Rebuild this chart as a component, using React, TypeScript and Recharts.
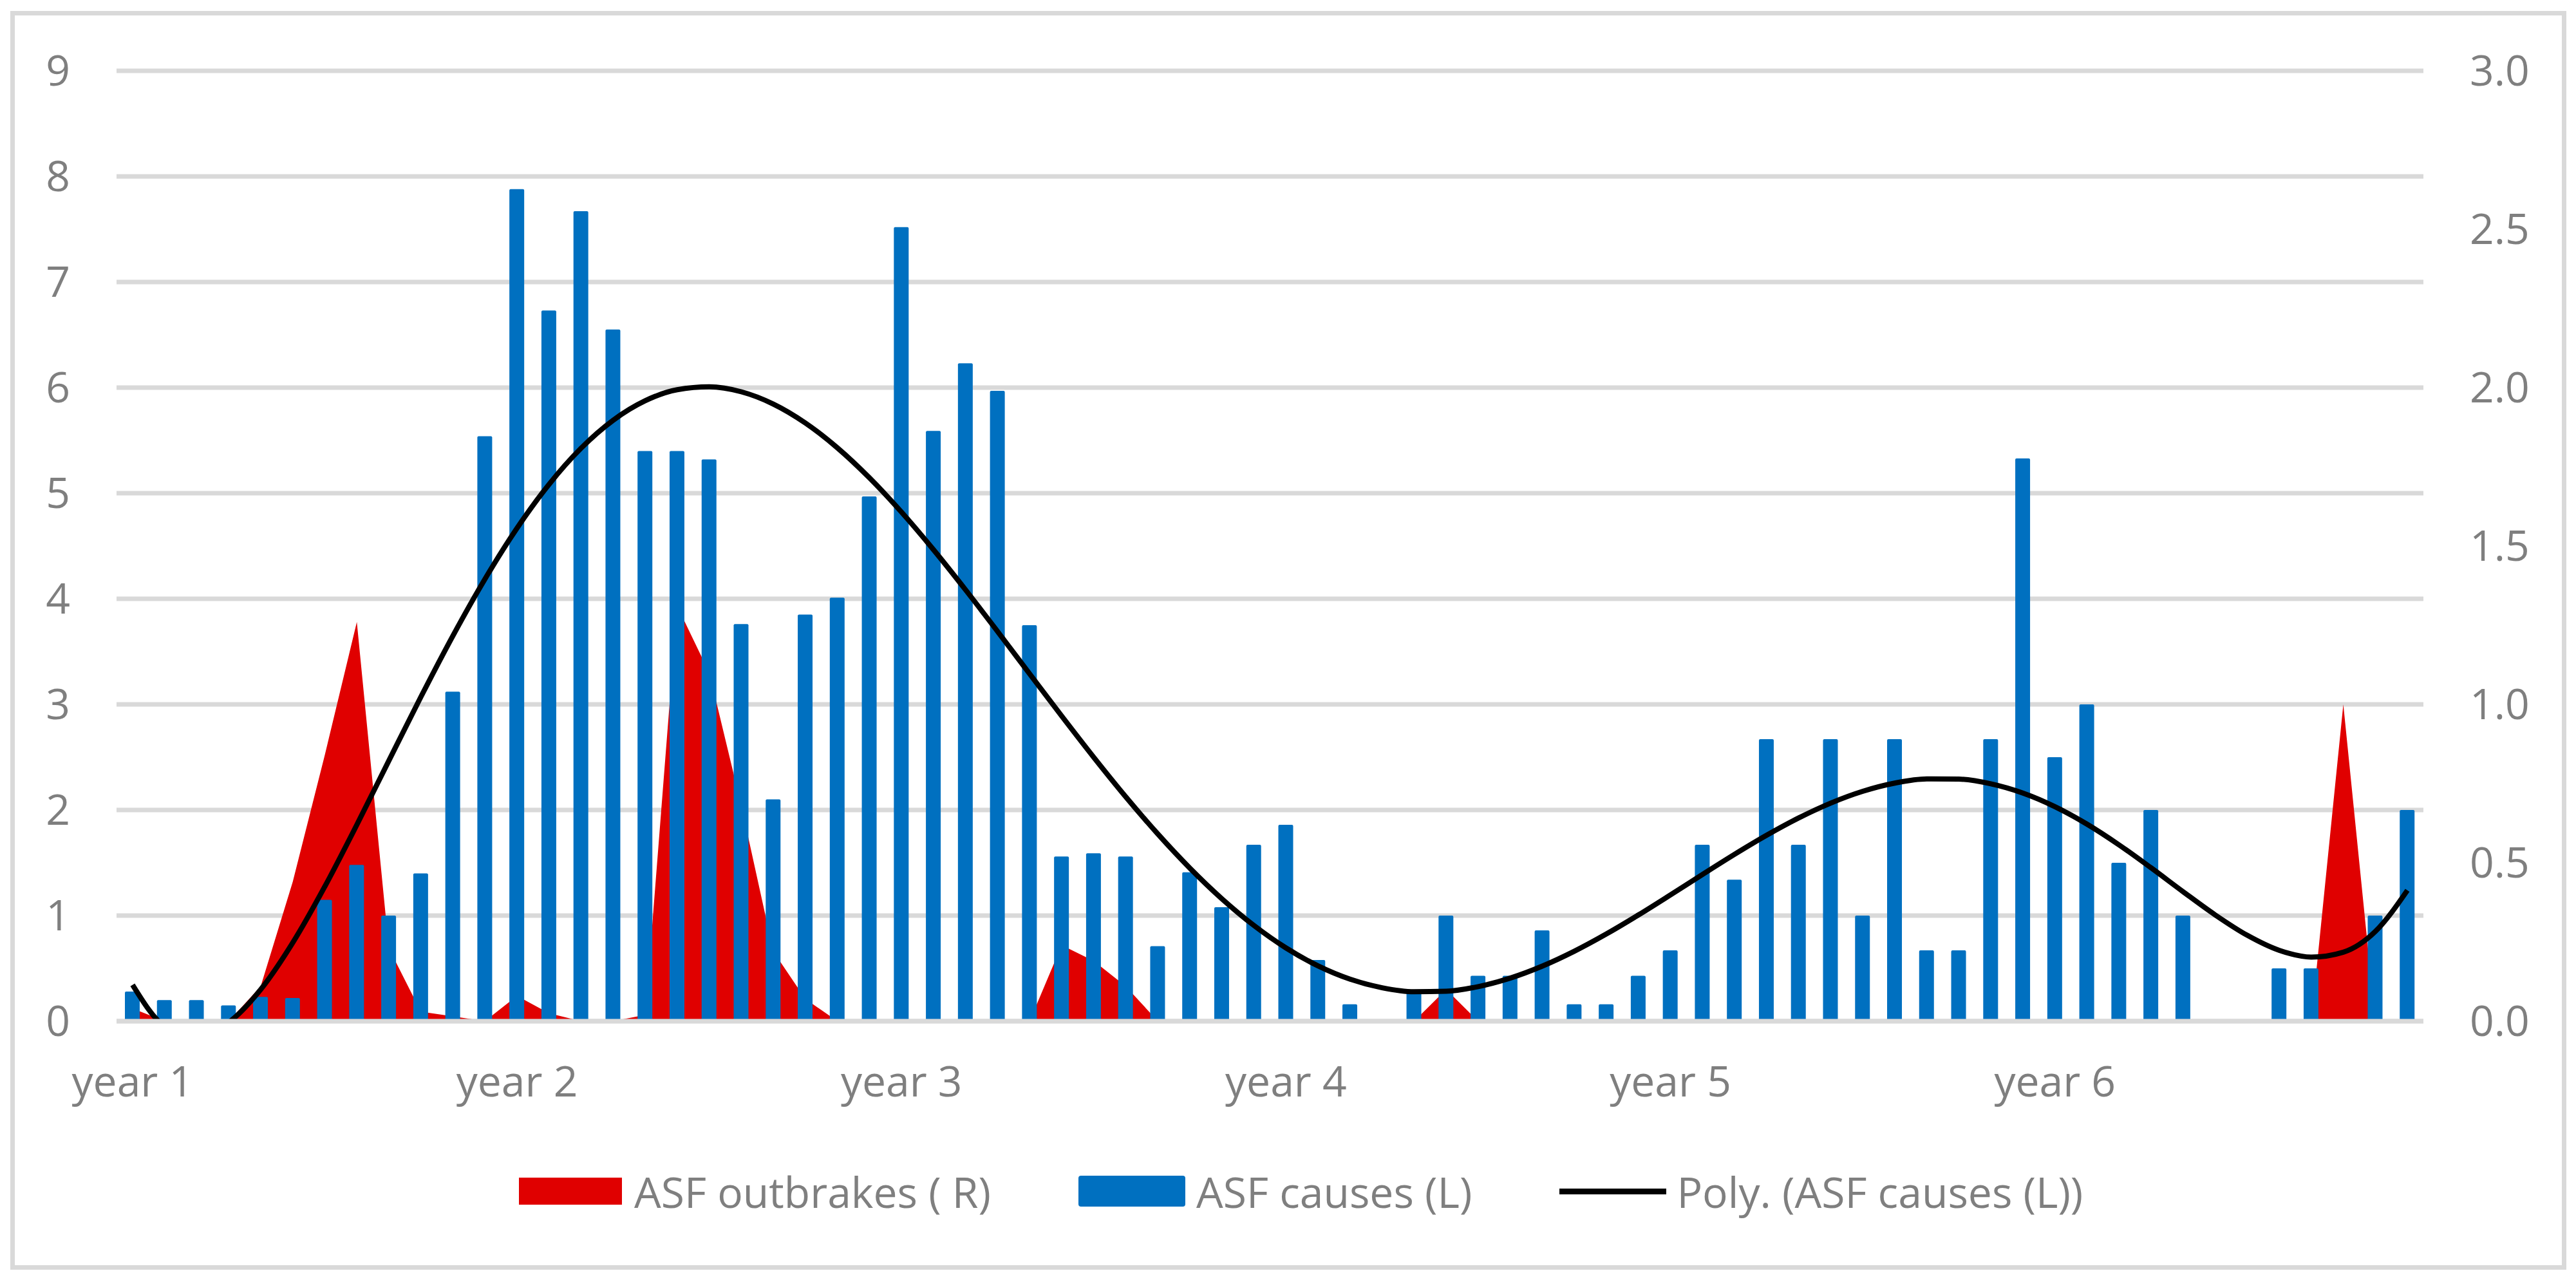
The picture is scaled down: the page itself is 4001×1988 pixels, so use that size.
import React from "react";
import {
  ComposedChart,
  Bar,
  Area,
  Line,
  XAxis,
  YAxis,
  CartesianGrid,
  Legend,
} from "recharts";

// 年份标签
const years = ["year 1", "year 2", "year 3", "year 4", "year 5", "year 6"];

// ASF causes (left axis), monthly
const causesY1 = [0.28, 0.2, 0.2, 0.15, 0.23, 0.22, 1.15, 1.48, 1.0, 1.4, 3.12, 5.54];
const causesY2 = [7.88, 6.73, 7.67, 6.55, 5.4, 5.4, 5.32, 3.76, 2.1, 3.85, 4.01, 4.97];
const causesY3 = [7.52, 5.59, 6.23, 5.97, 3.75, 1.56, 1.59, 1.56, 0.71, 1.41, 1.08, 1.67];
const causesY4 = [1.86, 0.58, 0.16, 0, 0.27, 1.0, 0.43, 0.43, 0.86, 0.16, 0.16, 0.43];
const causesY5 = [0.67, 1.67, 1.34, 2.67, 1.67, 2.67, 1.0, 2.67, 0.67, 0.67, 2.67, 5.33];
const causesY6 = [2.5, 3.0, 1.5, 2.0, 1.0, 0, 0, 0.5, 0.5, 0, 1.0, 2.0];

// ASF outbreaks (right axis), monthly
const outbreaksY1 = [0.04, 0, 0, 0, 0.11, 0.44, 0.84, 1.26, 0.23, 0.03, 0.015, 0];
const outbreaksY2 = [0.08, 0.025, 0, 0, 0.02, 1.31, 1.1, 0.68, 0.22, 0.07, 0, 0];
const outbreaksY3 = [0, 0, 0, 0, 0, 0.24, 0.19, 0.11, 0, 0, 0, 0];
const outbreaksY4 = [0, 0, 0, 0, 0, 0.1, 0, 0, 0, 0, 0, 0];
const outbreaksY5 = [0, 0, 0, 0, 0, 0, 0, 0, 0, 0, 0, 0];
const outbreaksY6 = [0, 0, 0, 0, 0, 0, 0, 0, 0, 1.0, 0, 0];

const leftTicks = [0, 1, 2, 3, 4, 5, 6, 7, 8, 9];
const rightTicks = [0, 0.5, 1.0, 1.5, 2.0, 2.5, 3.0];

const seriesNames = {
  outbreaks: "ASF outbrakes ( R)",
  causes: "ASF causes (L)",
  trend: "Poly. (ASF causes (L))",
};

const RED = "#E00000";
const BLUE = "#0070C0";
const GRID = "#D9D9D9";
const TEXT = "#7F7F7F";
const FONT = "'Open Sans', sans-serif";

const causesByYear = [causesY1, causesY2, causesY3, causesY4, causesY5, causesY6];
const outbreaksByYear = [outbreaksY1, outbreaksY2, outbreaksY3, outbreaksY4, outbreaksY5, outbreaksY6];

// 6th order least squares trend line (like Excel "Poly." trendline)
function polyFit(ys: number[], degree: number): number[] {
  const n = ys.length;
  const mid = (n + 1) / 2;
  const half = (n - 1) / 2;
  const ts = ys.map((_, i) => (i + 1 - mid) / half);
  const size = degree + 1;
  const A: number[][] = Array.from({ length: size }, () => new Array(size + 1).fill(0));
  for (let k = 0; k < n; k++) {
    for (let r = 0; r < size; r++) {
      for (let c = 0; c < size; c++) A[r][c] += Math.pow(ts[k], r + c);
      A[r][size] += Math.pow(ts[k], r) * ys[k];
    }
  }
  for (let col = 0; col < size; col++) {
    let piv = col;
    for (let r = col + 1; r < size; r++) if (Math.abs(A[r][col]) > Math.abs(A[piv][col])) piv = r;
    [A[col], A[piv]] = [A[piv], A[col]];
    for (let r = 0; r < size; r++) {
      if (r === col) continue;
      const f = A[r][col] / A[col][col];
      for (let c = col; c <= size; c++) A[r][c] -= f * A[col][c];
    }
  }
  const coef = A.map((row, i) => row[size] / row[i]);
  return ts.map((t) => coef.reduce((s, c, i) => s + c * Math.pow(t, i), 0));
}

const rows = years.flatMap((year, yi) =>
  causesByYear[yi].map((c, mi) => ({
    key: `${year}-${mi + 1}`,
    label: mi === 0 ? year : "",
    causes: c,
    outbreaks: outbreaksByYear[yi][mi],
  }))
);
const trendValues = polyFit(rows.map((r) => r.causes), 6);
const chartData = rows.map((r, i) => ({ ...r, trend: trendValues[i] }));

const labelByKey: Record<string, string> = {};
chartData.forEach((r) => (labelByKey[r.key] = r.label));

const XTick = ({ x, y, payload }: any) => {
  const label = labelByKey[payload.value];
  if (!label) return null;
  return (
    <text x={x} y={y + 117} textAnchor="middle" fill={TEXT} fontSize={66} fontFamily={FONT}>
      {label}
    </text>
  );
};

const LegendBox = () => (
  <div
    style={{
      display: "flex",
      alignItems: "center",
      height: 100,
      paddingLeft: 806,
      fontFamily: FONT,
      fontSize: 66,
      color: TEXT,
      lineHeight: 1,
      whiteSpace: "pre",
    }}
  >
    <div style={{ width: 160, height: 42, background: RED, marginRight: 19 }} />
    <span style={{ marginRight: 136 }}>{seriesNames.outbreaks}</span>
    <div style={{ width: 166, height: 48, background: BLUE, borderRadius: 4, marginRight: 17 }} />
    <span style={{ marginRight: 136 }}>{seriesNames.causes}</span>
    <div style={{ width: 166, height: 9, background: "#000", marginRight: 16 }} />
    <span>{seriesNames.trend}</span>
  </div>
);

export default function App() {
  return (
    <div
      style={{
        position: "absolute",
        left: 0,
        top: 0,
        width: 4001,
        height: 1988,
        background: "#fff",
        fontFamily: FONT,
      }}
    >
      <div
        style={{
          position: "absolute",
          left: 16,
          top: 17,
          width: 3970,
          height: 1955,
          border: `7px solid ${GRID}`,
          boxSizing: "border-box",
        }}
      />
      <div style={{ position: "absolute", left: 0, top: 0 }}>
        <ComposedChart
          width={4001}
          height={1988}
          data={chartData}
          margin={{ top: 110, right: 0, bottom: 0, left: 0 }}
        >
          <CartesianGrid yAxisId="left" vertical={false} stroke={GRID} strokeWidth={7} />
          <XAxis
            dataKey="key"
            interval={0}
            tickLine={false}
            tickSize={0}
            tickMargin={0}
            height={302}
            axisLine={{ stroke: GRID, strokeWidth: 7 }}
            tick={<XTick />}
          />
          <YAxis
            yAxisId="left"
            orientation="left"
            width={181}
            domain={[0, 9]}
            ticks={leftTicks}
            allowDataOverflow
            axisLine={false}
            tickLine={false}
            tickSize={0}
            tickMargin={72}
            tick={{ fill: TEXT, fontSize: 66, fontFamily: FONT }}
          />
          <YAxis
            yAxisId="right"
            orientation="right"
            width={237}
            domain={[0, 3]}
            ticks={rightTicks}
            axisLine={false}
            tickLine={false}
            tickSize={0}
            tickMargin={72}
            tickFormatter={(v: number) => v.toFixed(1)}
            tick={{ fill: TEXT, fontSize: 66, fontFamily: FONT }}
          />
          <Area
            yAxisId="right"
            type="linear"
            dataKey="outbreaks"
            name={seriesNames.outbreaks}
            fill={RED}
            fillOpacity={1}
            stroke="none"
            isAnimationActive={false}
          />
          <Bar
            yAxisId="left"
            dataKey="causes"
            name={seriesNames.causes}
            fill={BLUE}
            barSize={23}
            radius={[2, 2, 0, 0]}
            isAnimationActive={false}
          />
          <Line
            yAxisId="left"
            type="monotone"
            dataKey="trend"
            name={seriesNames.trend}
            stroke="#000"
            strokeWidth={8}
            dot={false}
            activeDot={false}
            isAnimationActive={false}
          />
          <Legend
            verticalAlign="bottom"
            content={() => <LegendBox />}
            wrapperStyle={{ top: 1800, left: 0, width: 4001, height: 100 }}
          />
        </ComposedChart>
      </div>
    </div>
  );
}
